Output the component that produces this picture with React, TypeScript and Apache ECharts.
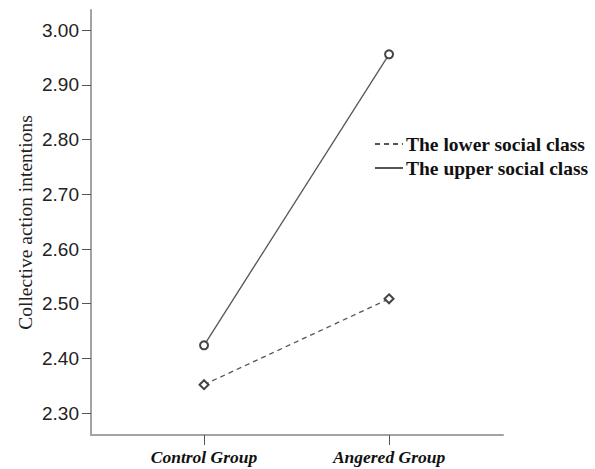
import React, { useEffect, useRef } from "react";
import * as echarts from "echarts";

const categories = ["Control Group", "Angered Group"];
const lowerClass = [2.352, 2.509];
const upperClass = [2.424, 2.956];
const yTicks = [2.3, 2.4, 2.5, 2.6, 2.7, 2.8, 2.9, 3.0];
const seriesNames = ["The lower social class", "The upper social class"];

export default function App() {
  const ref = useRef<HTMLDivElement>(null);
  useEffect(() => {
    if (!ref.current) return;
    const chart = echarts.init(ref.current, undefined, { renderer: "svg" });
    const serif = "'Liberation Serif', 'Times New Roman', serif";
    const sans = "'Liberation Sans', Arial, sans-serif";
    const axisColor = "#a3a3a3";
    chart.setOption({
      animation: false,
      backgroundColor: "#ffffff",
      grid: { left: 91, top: 10, width: 412, height: 425, containLabel: false },
      legend: {
        orient: "vertical",
        left: 374,
        top: 134,
        itemWidth: 28,
        itemHeight: 14,
        itemGap: 4,
        padding: 0,
        itemStyle: { opacity: 0 },
        textStyle: { fontFamily: serif, fontSize: 19.5, fontWeight: "bold", color: "#111", lineHeight: 20, padding: [0, 0, 0, -2] },
        data: seriesNames,
      },
      xAxis: {
        type: "value",
        min: -0.611,
        max: 1.616,
        splitLine: { show: false },
        axisLine: { show: true, onZero: false, lineStyle: { color: axisColor, width: 2 } },
        axisTick: { show: true, customValues: [0, 1], length: 10, lineStyle: { color: "#555", width: 1 } },
        axisLabel: {
          customValues: [0, 1],
          formatter: (v: number) => categories[Math.round(v)] ?? "",
          fontFamily: serif,
          fontSize: 17.5,
          fontWeight: "bold",
          fontStyle: "italic",
          color: "#111",
          margin: 13,
        },
      },
      yAxis: {
        type: "value",
        min: 2.26,
        max: 3.037,
        name: "Collective action intentions",
        nameLocation: "middle",
        nameGap: 56,
        nameMoveOverlap: false,
        nameTextStyle: { fontFamily: serif, fontSize: 19.5, color: "#222" },
        splitLine: { show: false },
        axisLine: { show: true, onZero: false, lineStyle: { color: axisColor, width: 2 } },
        axisTick: { show: true, customValues: yTicks, length: 9, lineStyle: { color: "#555", width: 1 } },
        axisLabel: {
          customValues: yTicks,
          formatter: (v: number) => v.toFixed(2),
          fontFamily: sans,
          fontSize: 19,
          color: "#222",
          margin: 12,
        },
      },
      series: [
        {
          name: seriesNames[0],
          type: "line",
          data: lowerClass.map((v, i) => [i, v]),
          symbol: "emptyDiamond",
          symbolSize: 9,
          lineStyle: { color: "#555", width: 1.3, type: [5, 4] },
          itemStyle: { color: "#444", borderWidth: 1.5 },
        },
        {
          name: seriesNames[1],
          type: "line",
          data: upperClass.map((v, i) => [i, v]),
          symbol: "emptyCircle",
          symbolSize: 8,
          lineStyle: { color: "#555", width: 1.3, type: "solid" },
          itemStyle: { color: "#444", borderWidth: 1.5 },
        },
      ],
    });
    return () => chart.dispose();
  }, []);
  return <div ref={ref} style={{ position: "absolute", left: 0, top: 0, width: 595, height: 469 }} />;
}
